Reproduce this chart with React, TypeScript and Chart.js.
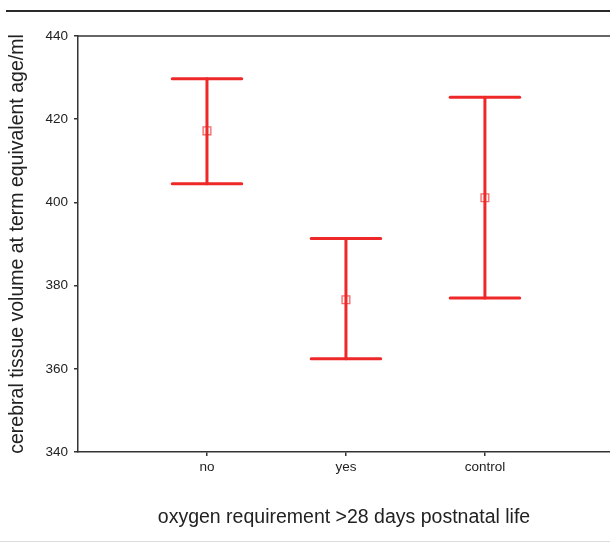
import React, { useEffect, useRef } from "react";
import { Chart, registerables } from "chart.js";

Chart.register(...registerables);

const categories = ["no", "yes", "control"];
const means = [417.2, 376.6, 401.1];
const lowers = [404.5, 362.4, 377.0];
const uppers = [429.7, 391.3, 425.3];
const yTicks = [340, 360, 380, 400, 420, 440];

const RED = "#ee2828";
const CAP_HALF = 0.25;

// keep the plot area running to the right edge of the canvas, as in the reference
const stretchPlugin = {
  id: "stretch",
  afterLayout(chart: any) {
    const s = chart.scales.x;
    if (!s) return;
    const right = chart.width;
    s.right = right;
    s.width = right - s.left;
    s.configure();
    chart.chartArea.right = right;
    chart.chartArea.width = right - chart.chartArea.left;
  },
};

const framePlugin = {
  id: "frame",
  afterDraw(chart: any) {
    const { ctx, chartArea } = chart;
    ctx.save();
    // outer top rule
    ctx.strokeStyle = "#2a2a2a";
    ctx.lineWidth = 2;
    ctx.beginPath();
    ctx.moveTo(6, 11);
    ctx.lineTo(chart.width, 11);
    ctx.stroke();
    // bottom light rule
    ctx.strokeStyle = "#dddddd";
    ctx.lineWidth = 1;
    ctx.beginPath();
    ctx.moveTo(0, 541.5);
    ctx.lineTo(chart.width, 541.5);
    ctx.stroke();
    // plot top border
    ctx.strokeStyle = "#333333";
    ctx.lineWidth = 1.5;
    ctx.beginPath();
    ctx.moveTo(chartArea.left, chartArea.top);
    ctx.lineTo(chartArea.right, chartArea.top);
    ctx.stroke();
    ctx.restore();
  },
};

export default function App() {
  const ref = useRef<HTMLCanvasElement>(null);
  useEffect(() => {
    if (!ref.current) return;
    const datasets: any[] = [];
    categories.forEach((_, i) => {
      const x = i + 1;
      const line = {
        type: "line",
        borderColor: RED,
        borderWidth: 3,
        borderCapStyle: "round",
        pointRadius: 0,
        showLine: true,
        fill: false,
      };
      datasets.push({ ...line, data: [{ x, y: lowers[i] }, { x, y: uppers[i] }] });
      datasets.push({ ...line, data: [{ x: x - CAP_HALF, y: uppers[i] }, { x: x + CAP_HALF, y: uppers[i] }] });
      datasets.push({ ...line, data: [{ x: x - CAP_HALF, y: lowers[i] }, { x: x + CAP_HALF, y: lowers[i] }] });
    });
    datasets.push({
      type: "scatter",
      data: means.map((m, i) => ({ x: i + 1, y: m })),
      pointStyle: "rect",
      pointRadius: 5.5,
      pointBorderWidth: 1.3,
      pointBorderColor: "rgba(240,80,80,0.85)",
      pointBackgroundColor: "rgba(255,235,235,0.5)",
      showLine: false,
    });

    const tickFont = { family: "Liberation Sans", size: 13.5 };
    const chart = new Chart(ref.current, {
      type: "scatter",
      data: { datasets },
      plugins: [stretchPlugin, framePlugin],
      options: {
        animation: false,
        responsive: false,
        layout: { padding: { top: 36, left: 6, right: 0, bottom: 15 } },
        plugins: { legend: { display: false }, tooltip: { enabled: false } },
        scales: {
          x: {
            type: "linear",
            min: 0.072,
            max: 3.9,
            afterBuildTicks: (s: any) => {
              s.ticks = categories.map((_, i) => ({ value: i + 1 }));
            },
            afterFit: (s: any) => {
              s.height = 77;
            },
            grid: { drawOnChartArea: false, tickLength: 4, color: "#333", lineWidth: 1.5 },
            border: { display: true, color: "#333", width: 1.5 },
            ticks: {
              padding: 3,
              color: "#222",
              font: tickFont,
              callback: (v: any) => categories[Math.round(Number(v)) - 1] ?? "",
              maxRotation: 0,
            },
            title: {
              display: true,
              text: "oxygen requirement >28 days postnatal life",
              color: "#222",
              font: { family: "Liberation Sans", size: 19.5 },
              padding: 0,
            },
          },
          y: {
            type: "linear",
            min: 340,
            max: 440,
            afterBuildTicks: (s: any) => {
              s.ticks = yTicks.map((v) => ({ value: v }));
            },
            afterFit: (s: any) => {
              s.width = 72;
            },
            grid: { drawOnChartArea: false, tickLength: 4, color: "#333", lineWidth: 1.5 },
            border: { display: true, color: "#333", width: 1.5 },
            ticks: {
              padding: 6,
              color: "#222",
              font: tickFont,
            },
            title: {
              display: true,
              text: "cerebral tissue volume at term equivalent age/ml",
              color: "#222",
              font: { family: "Liberation Sans", size: 19.5 },
              padding: 0,
            },
          },
        },
      },
    } as any);
    return () => chart.destroy();
  }, []);
  return (
    <div style={{ position: "absolute", left: 0, top: 0, width: 610, height: 544, background: "#fff" }}>
      <canvas ref={ref} width={610} height={544} style={{ width: 610, height: 544 }} />
    </div>
  );
}
